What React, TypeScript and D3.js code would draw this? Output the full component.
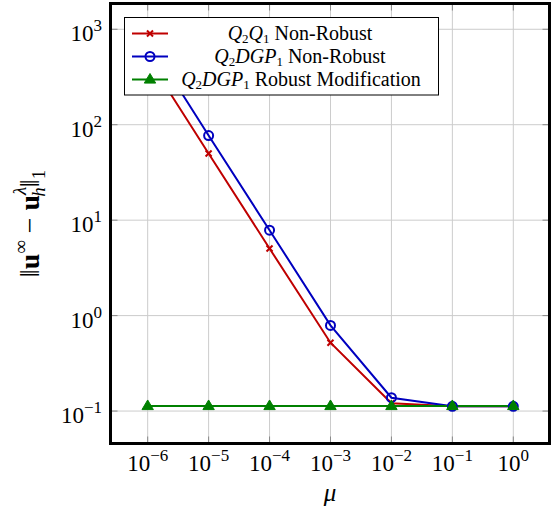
import React from "react";
import * as d3 from "d3";

const muValues = [1e-6, 1e-5, 1e-4, 1e-3, 1e-2, 1e-1, 1e0];
const q2q1NonRobust = [500, 50, 5.05, 0.52, 0.121, 0.112, 0.112];
const q2dgp1NonRobust = [780, 77, 7.85, 0.79, 0.138, 0.112, 0.112];
const q2dgp1Robust = [0.113, 0.113, 0.113, 0.113, 0.113, 0.113, 0.113];

const xTickExps = [-6, -5, -4, -3, -2, -1, 0];
const yTickExps = [-1, 0, 1, 2, 3];

const W = 552;
const H = 510;
const left = 110.5;
const right = 549.5;
const top = 3.5;
const bottom = 443.5;

const FONT = "'Liberation Serif', 'DejaVu Serif', serif";
const RED = "#bf0000";
const BLUE = "#0000bf";
const GREEN = "#008000";

const expLabel = (e: number) => (e < 0 ? "\u2212" + Math.abs(e) : String(e));

export default function App() {
  const x = d3.scaleLog().domain([Math.pow(10, -6.61), Math.pow(10, 0.594)]).range([left, right]);
  const y = d3.scaleLog().domain([Math.pow(10, -1.34), Math.pow(10, 3.27)]).range([bottom, top]);

  const line = d3
    .line<number>()
    .x((_, i) => x(muValues[i]))
    .y((d) => y(d));

  const series = [
    { name: "q2q1", data: q2q1NonRobust, color: RED, marker: "x" },
    { name: "q2dgp1", data: q2dgp1NonRobust, color: BLUE, marker: "o" },
    { name: "robust", data: q2dgp1Robust, color: GREEN, marker: "t" },
  ];

  const marker = (type: string, cx: number, cy: number, color: string, key: string) => {
    if (type === "x") {
      const s = 3;
      return (
        <g key={key} stroke={color} strokeWidth={2}>
          <line x1={cx - s} y1={cy - s} x2={cx + s} y2={cy + s} />
          <line x1={cx - s} y1={cy + s} x2={cx + s} y2={cy - s} />
        </g>
      );
    }
    if (type === "o") {
      return <circle key={key} cx={cx} cy={cy} r={4.5} fill="none" stroke={color} strokeWidth={2} />;
    }
    const r = 6;
    const pts = [
      [cx, cy - r],
      [cx - r * 0.95, cy + r * 0.6],
      [cx + r * 0.95, cy + r * 0.6],
    ]
      .map((p) => p.join(","))
      .join(" ");
    return <polygon key={key} points={pts} fill={color} stroke={color} strokeWidth={1} />;
  };

  const legendX = 124.5;
  const legendY = 17.5;
  const legendW = 314;
  const legendH = 77.5;
  const rowY = [33.5, 56.5, 79.5];
  const textCx = 300;
  const sub = 13;

  return (
    <svg width={W} height={H} style={{ position: "absolute", left: 0, top: 0 }} fontFamily={FONT}>
      <defs>
        <clipPath id="plotclip">
          <rect x={left} y={top} width={right - left} height={bottom - top} />
        </clipPath>
      </defs>
      <rect x={0} y={0} width={W} height={H} fill="#fff" />
      {/* grid */}
      <g stroke="#cccccc" strokeWidth={1}>
        {xTickExps.map((e) => (
          <line key={"gx" + e} x1={x(Math.pow(10, e))} x2={x(Math.pow(10, e))} y1={top} y2={bottom} />
        ))}
        {yTickExps.map((e) => (
          <line key={"gy" + e} x1={left} x2={right} y1={y(Math.pow(10, e))} y2={y(Math.pow(10, e))} />
        ))}
      </g>
      {/* ticks */}
      <g stroke="#888" strokeWidth={1}>
        {xTickExps.map((e) => {
          const xx = x(Math.pow(10, e));
          return (
            <g key={"tx" + e}>
              <line x1={xx} x2={xx} y1={bottom} y2={bottom - 7} />
              <line x1={xx} x2={xx} y1={top} y2={top + 7} />
            </g>
          );
        })}
        {yTickExps.map((e) => {
          const yy = y(Math.pow(10, e));
          return (
            <g key={"ty" + e}>
              <line x1={left} x2={left + 7} y1={yy} y2={yy} />
              <line x1={right} x2={right - 7} y1={yy} y2={yy} />
            </g>
          );
        })}
      </g>
      {/* data */}
      <g clipPath="url(#plotclip)">
        {series.map((s) => (
          <path key={s.name} d={line(s.data) || ""} fill="none" stroke={s.color} strokeWidth={2} />
        ))}
        {series.map((s) => s.data.map((v, i) => marker(s.marker, x(muValues[i]), y(v), s.color, s.name + i)))}
      </g>
      {/* frame */}
      <rect x={left} y={top} width={right - left} height={bottom - top} fill="none" stroke="#000" strokeWidth={3} />
      {/* legend */}
      <rect x={legendX} y={legendY} width={legendW} height={legendH} fill="#fff" stroke="#000" strokeWidth={1} />
      {series.map((s, i) => (
        <g key={"lg" + s.name}>
          <line x1={132} x2={168} y1={rowY[i]} y2={rowY[i]} stroke={s.color} strokeWidth={2} />
          {marker(s.marker, 150, rowY[i], s.color, "lm" + i)}
        </g>
      ))}
      <g fontSize={20} fill="#000" textAnchor="middle">
        <text x={textCx} y={rowY[0] + 6}>
          <tspan fontStyle="italic">Q</tspan>
          <tspan fontSize={sub} dy={3}>2</tspan>
          <tspan fontStyle="italic" dy={-3}>Q</tspan>
          <tspan fontSize={sub} dy={3}>1</tspan>
          <tspan dy={-3}> Non-Robust</tspan>
        </text>
        <text x={textCx} y={rowY[1] + 6}>
          <tspan fontStyle="italic">Q</tspan>
          <tspan fontSize={sub} dy={3}>2</tspan>
          <tspan fontStyle="italic" dy={-3}>DGP</tspan>
          <tspan fontSize={sub} dy={3}>1</tspan>
          <tspan dy={-3}> Non-Robust</tspan>
        </text>
        <text x={textCx + 1} y={rowY[2] + 6}>
          <tspan fontStyle="italic">Q</tspan>
          <tspan fontSize={sub} dy={3}>2</tspan>
          <tspan fontStyle="italic" dy={-3}>DGP</tspan>
          <tspan fontSize={sub} dy={3}>1</tspan>
          <tspan dy={-3}> Robust Modification</tspan>
        </text>
      </g>
      {/* x tick labels */}
      <g fontSize={23} fill="#000" textAnchor="middle">
        {xTickExps.map((e) => (
          <text key={"xl" + e} x={x(Math.pow(10, e))} y={471}>
            10<tspan fontSize={17} dy={-10}>{expLabel(e)}</tspan>
          </text>
        ))}
      </g>
      {/* y tick labels */}
      <g fontSize={23} fill="#000" textAnchor="end">
        {yTickExps.map((e) => (
          <text key={"yl" + e} x={102} y={y(Math.pow(10, e)) + 12}>
            10<tspan fontSize={17} dy={-10}>{expLabel(e)}</tspan>
          </text>
        ))}
      </g>
      {/* x axis label */}
      <text x={(left + right) / 2} y={501} fontSize={25} fontStyle="italic" textAnchor="middle">
        μ
      </text>
      {/* y axis label */}
      <g transform={`translate(39, ${(top + bottom) / 2}) rotate(-90)`}>
        <text x={0} y={0} fontSize={28} textAnchor="middle">
          <tspan>‖</tspan>
          <tspan fontWeight="bold">u</tspan>
          <tspan fontSize={19} dy={-12}>∞</tspan>
          <tspan dy={12}> − </tspan>
          <tspan fontWeight="bold">u</tspan>
          <tspan fontSize={19} fontStyle="italic" dy={-13}>λ</tspan>
          <tspan fontSize={19} fontStyle="italic" dx={-10} dy={19}>h</tspan>
          <tspan dy={-6}>‖</tspan>
          <tspan fontSize={19} dy={6}>1</tspan>
        </text>
      </g>
    </svg>
  );
}
